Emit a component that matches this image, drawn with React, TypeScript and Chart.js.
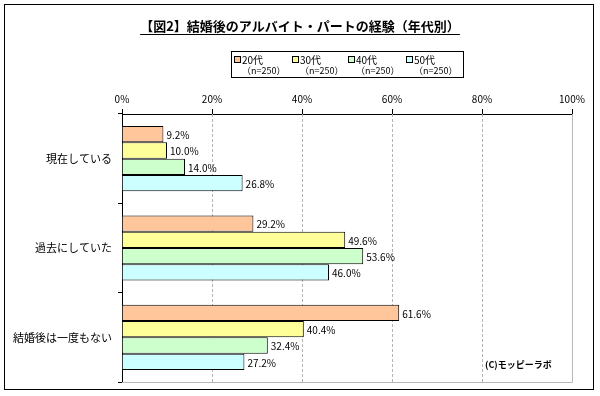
import React, { useEffect, useRef } from "react";
import { Chart, registerables } from "chart.js";

Chart.register(...registerables);

const categories = ["現在している", "過去にしていた", "結婚後は一度もない"];
const seriesNames = ["20代", "30代", "40代", "50代"];
const seriesSub = ["（n=250）", "（n=250）", "（n=250）", "（n=250）"];
const values20 = [9.2, 29.2, 61.6];
const values30 = [10.0, 49.6, 40.4];
const values40 = [14.0, 53.6, 32.4];
const values50 = [26.8, 46.0, 27.2];
const tickValues = [0, 20, 40, 60, 80, 100];
const colors = ["#FFC69C", "#FFFF99", "#CCFFCC", "#CCFFFF"];
const titleText = "【図2】結婚後のアルバイト・パートの経験（年代別）";
const creditText = "(C)モッピーラボ";

const FONT = '"Noto Sans CJK JP", "Noto Sans", sans-serif';

export default function App() {
  const ref = useRef<HTMLCanvasElement | null>(null);
  useEffect(() => {
    const canvas = ref.current;
    if (!canvas) return;
    const seriesValues = [values20, values30, values40, values50];

    const decor = {
      id: "decor",
      beforeDatasetsDraw(chart: any) {
        const { ctx, chartArea } = chart;
        const x = chart.scales.x;
        ctx.save();
        ctx.strokeStyle = "#b4b4b4";
        ctx.lineWidth = 1;
        ctx.setLineDash([3, 2]);
        tickValues.forEach((v) => {
          if (v === 0 || v === 100) return;
          const px = Math.round(x.getPixelForValue(v)) + 0.5;
          ctx.beginPath();
          ctx.moveTo(px, chartArea.top);
          ctx.lineTo(px, chartArea.bottom);
          ctx.stroke();
        });
        ctx.setLineDash([]);
        ctx.strokeStyle = "#b8b8b8";
        ctx.beginPath();
        const r = Math.round(x.getPixelForValue(100)) + 0.5;
        ctx.moveTo(r, chartArea.top);
        ctx.lineTo(r, Math.round(chartArea.bottom) + 0.5);
        ctx.lineTo(chartArea.left, Math.round(chartArea.bottom) + 0.5);
        ctx.stroke();
        ctx.restore();
      },
      afterDraw(chart: any) {
        const { ctx } = chart;
        ctx.save();
        // outer frame
        ctx.strokeStyle = "#000";
        ctx.lineWidth = 1;
        ctx.strokeRect(4.5, 4.5, 589, 385);
        // title
        ctx.font = "bold 13px " + FONT;
        ctx.fillStyle = "#000";
        ctx.textAlign = "center";
        ctx.textBaseline = "middle";
        ctx.fillText(titleText, 300, 26);
        const tw = ctx.measureText(titleText).width;
        ctx.fillRect(300 - tw / 2, 34, tw, 1);
        // legend
        ctx.strokeStyle = "#000";
        ctx.strokeRect(231.5, 51.5, 232, 26);
        ctx.textAlign = "left";
        const colX = [234, 292, 348, 406];
        seriesNames.forEach((n, i) => {
          const bx = colX[i];
          ctx.fillStyle = colors[i];
          ctx.fillRect(bx + 0.5, 56.5, 6, 6);
          ctx.strokeStyle = "#000";
          ctx.strokeRect(bx + 0.5, 56.5, 6, 6);
          ctx.fillStyle = "#000";
          ctx.font = "10px " + FONT;
          ctx.fillText(n, bx + 8, 60);
          ctx.font = "9px " + FONT;
          ctx.fillText(seriesSub[i], bx + 8, 71);
        });
        // data labels
        ctx.font = "10px " + FONT;
        ctx.textBaseline = "middle";
        chart.data.datasets.forEach((ds: any, di: number) => {
          const meta = chart.getDatasetMeta(di);
          meta.data.forEach((bar: any, j: number) => {
            const v = seriesValues[di][j];
            ctx.fillText(v.toFixed(1) + "%", bar.x + 3, bar.y + 1);
          });
        });
        // credit
        ctx.font = "bold 9px " + FONT;
        ctx.fillText(creditText, 485, 365);
        ctx.restore();
      },
    };

    const chart = new Chart(canvas, {
      type: "bar",
      data: {
        labels: categories,
        datasets: seriesNames.map((n, i) => ({
          label: n,
          data: seriesValues[i],
          backgroundColor: colors[i],
          borderColor: "#000",
          borderWidth: 1,
          categoryPercentage: 0.73,
          barPercentage: 1,
        })),
      },
      options: {
        indexAxis: "y",
        responsive: false,
        animation: false,
        events: [],
        layout: { padding: { left: 6, right: 28, top: 80, bottom: 14 } },
        plugins: {
          legend: { display: false },
          title: { display: false },
          tooltip: { enabled: false },
        },
        scales: {
          x: {
            position: "top",
            min: 0,
            max: 100,
            afterBuildTicks(scale: any) {
              scale.ticks = tickValues.map((v) => ({ value: v }));
            },
            afterFit(scale: any) {
              scale.height = 34;
            },
            ticks: {
              callback: (v: any) => v + "%",
              font: { family: FONT, size: 10 },
              color: "#000",
              padding: 4,
              maxRotation: 0,
            },
            grid: {
              drawOnChartArea: false,
              drawTicks: true,
              tickLength: 5,
              color: "#000",
            },
            border: { display: true, color: "#000" },
          },
          y: {
            afterFit(scale: any) {
              scale.width = 116;
            },
            ticks: {
              font: { family: FONT, size: 11 },
              color: "#000",
              padding: 6,
            },
            grid: {
              drawOnChartArea: false,
              drawTicks: true,
              tickLength: 4,
              color: "#000",
            },
            border: { display: true, color: "#000" },
          },
        },
      },
      plugins: [decor],
    });
    return () => chart.destroy();
  }, []);

  return (
    <div style={{ position: "absolute", left: 0, top: 0, width: 600, height: 396, background: "#fff" }}>
      <canvas ref={ref} width={600} height={396} style={{ display: "block" }} />
    </div>
  );
}
